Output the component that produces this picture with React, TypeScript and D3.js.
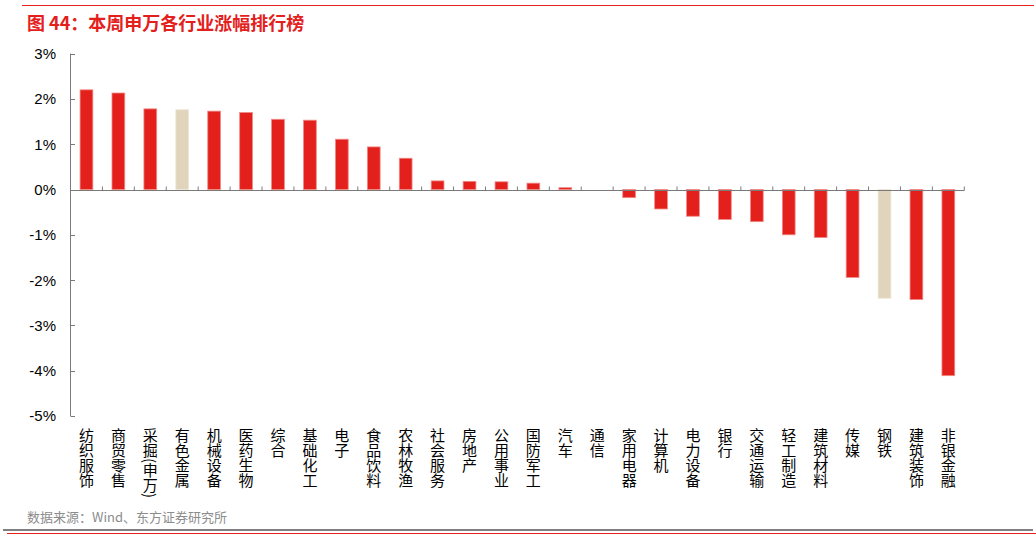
import React from "react";
import * as d3 from "d3";

const categories = ["纺织服饰","商贸零售","采掘(申万)","有色金属","机械设备","医药生物","综合","基础化工","电子","食品饮料","农林牧渔","社会服务","房地产","公用事业","国防军工","汽车","通信","家用电器","计算机","电力设备","银行","交通运输","轻工制造","建筑材料","传媒","钢铁","建筑装饰","非银金融"];
const values = [2.20,2.13,1.78,1.76,1.73,1.70,1.55,1.53,1.11,0.94,0.69,0.19,0.18,0.17,0.14,0.04,0.0,-0.18,-0.43,-0.59,-0.66,-0.71,-1.00,-1.06,-1.94,-2.40,-2.43,-4.11];
const highlighted = ["有色金属","钢铁"];
const yTicks = [3,2,1,0,-1,-2,-3,-4,-5];
const title = "图 44：本周申万各行业涨幅排行榜";
const source = "数据来源：Wind、东方证券研究所";

const W = 1036, H = 539;
const RED = "#E3201B";
const BEIGE = "#E0D5BC";
const AXIS = "#7a7a7a";
const CJK = "'Noto Sans CJK SC', 'Liberation Sans', sans-serif";
const LAT = "'Liberation Sans', Arial, sans-serif";

export default function App() {
  const x = d3.scaleBand<string>().domain(categories).range([70.5, 964.3]).paddingInner(0).paddingOuter(0);
  const y = d3.scaleLinear().domain([-5, 3]).range([416, 53.6]);
  const bw = x.bandwidth() * 0.4;
  const y0 = y(0);
  return (
    <svg width={W} height={H} style={{ position: "absolute", left: 0, top: 0, background: "#fff" }}>
      <line x1={22} x2={1034} y1={5.5} y2={5.5} stroke={RED} strokeWidth={1} />
      <text x={27} y={29.5} fill={RED} fontFamily={CJK} fontWeight="bold" fontSize={18}>{title}</text>

      {/* y axis */}
      <line x1={70.5} x2={70.5} y1={y(3)} y2={y(-5)} stroke={AXIS} strokeWidth={1} />
      {yTicks.map(t => (
        <g key={t}>
          <line x1={70.5} x2={75} y1={Math.round(y(t)) + 0.5} y2={Math.round(y(t)) + 0.5} stroke={AXIS} strokeWidth={1} />
          <text x={56} y={y(t)} dy="0.36em" textAnchor="end" fontFamily={LAT} fontSize={15} fill="#000">{t}%</text>
        </g>
      ))}

      {/* bars */}
      {categories.map((c, i) => {
        const v = values[i];
        const cx = (x(c) as number) + x.bandwidth() / 2;
        const top = Math.min(y(v), y0);
        const h = Math.abs(y(v) - y0);
        return (
          <rect key={c} x={cx - bw / 2} y={top} width={bw} height={h}
            fill={highlighted.includes(c) ? BEIGE : RED}
            stroke={highlighted.includes(c) ? "#ede6d6" : "#f08a86"} strokeWidth={0.8} />
        );
      })}

      {/* x axis */}
      <line x1={70.5} x2={964.3} y1={Math.round(y0) + 0.5} y2={Math.round(y0) + 0.5} stroke={AXIS} strokeWidth={1.2} />
      {categories.map((c) => (
        <line key={"t" + c} x1={(x(c) as number) + x.bandwidth()} x2={(x(c) as number) + x.bandwidth()}
          y1={Math.round(y0) + 0.5} y2={Math.round(y0) - 3.5} stroke={AXIS} strokeWidth={1} />
      ))}

      {/* category labels */}
      {categories.map((c) => {
        const cx = (x(c) as number) + x.bandwidth() / 2;
        return (
          <text key={"l" + c} x={cx} y={428} fontFamily={CJK} fontSize={15} fill="#000"
            style={{ writingMode: "vertical-rl" as any }}>{c}</text>
        );
      })}

      <text x={27} y={522} fill="#8c8c8c" fontFamily={CJK} fontSize={13}>{source}</text>
      <line x1={3} x2={1033} y1={530} y2={530} stroke="#555" strokeWidth={1.5} />
      <line x1={7} x2={1036} y1={533.5} y2={533.5} stroke={RED} strokeWidth={1} />
    </svg>
  );
}
